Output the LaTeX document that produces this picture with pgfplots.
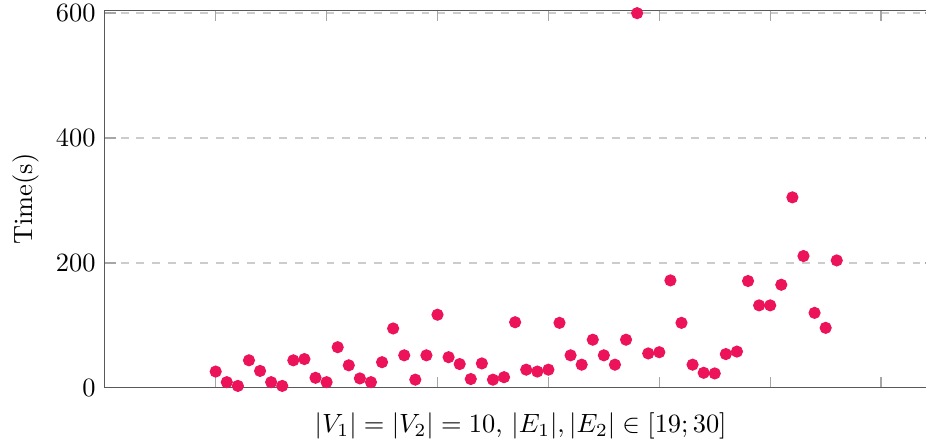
\documentclass[border=0pt]{standalone}
\usepackage{pgfplots}
\pgfplotsset{compat=1.18}
\definecolor{dotcol}{RGB}{237,19,90}
\begin{document}
\begin{tikzpicture}
\begin{axis}[
  scale only axis,
  width=315.1pt, height=143.1pt,
  xmin=0, xmax=75, ymin=0, ymax=605,
  xtick={10,20,30,40,50,60,70},
  xticklabels={},
  ytick={0,200,400,600},
  ymajorgrids,
  major grid style={dashed, black!20, line width=0.5pt},
  axis line style={black!65},
  major tick style={black!35, line width=0.5pt},
  xlabel={$|V_1| = |V_2| = 10$, $|E_1|, |E_2| \in [19;30]$},
  xlabel style={at={(axis description cs:0.5,-0.119)}, anchor=base},
  ylabel={Time(s)},
  ylabel style={at={(axis description cs:-0.087,0.5)}, anchor=base},
]
\addplot[only marks, mark=*, mark size=2.1pt, draw=dotcol, fill=dotcol] coordinates {
(10,26) (11,9) (12,3) (13,44) (14,27) (15,9) (16,3) (17,44) (18,46) (19,16)
(20,9) (21,65) (22,36) (23,15) (24,9) (25,41) (26,95) (27,52) (28,13) (29,52)
(30,117) (31,49) (32,38) (33,14) (34,39) (35,13) (36,17) (37,105) (38,29) (39,26)
(40,29) (41,104) (42,52) (43,37) (44,77) (45,52) (46,37) (47,77) (48,600) (49,55)
(50,57) (51,172) (52,104) (53,37) (54,24) (55,23) (56,54) (57,58) (58,171) (59,132)
(60,132) (61,165) (62,305) (63,211) (64,120) (65,96) (66,204)
};
\end{axis}
\pgfresetboundingbox
\useasboundingbox ([xshift=-39.7pt, yshift=-22.5pt]current axis.south west) rectangle ([xshift=-4pt, yshift=3.8pt]current axis.north east);
\end{tikzpicture}
\end{document}
